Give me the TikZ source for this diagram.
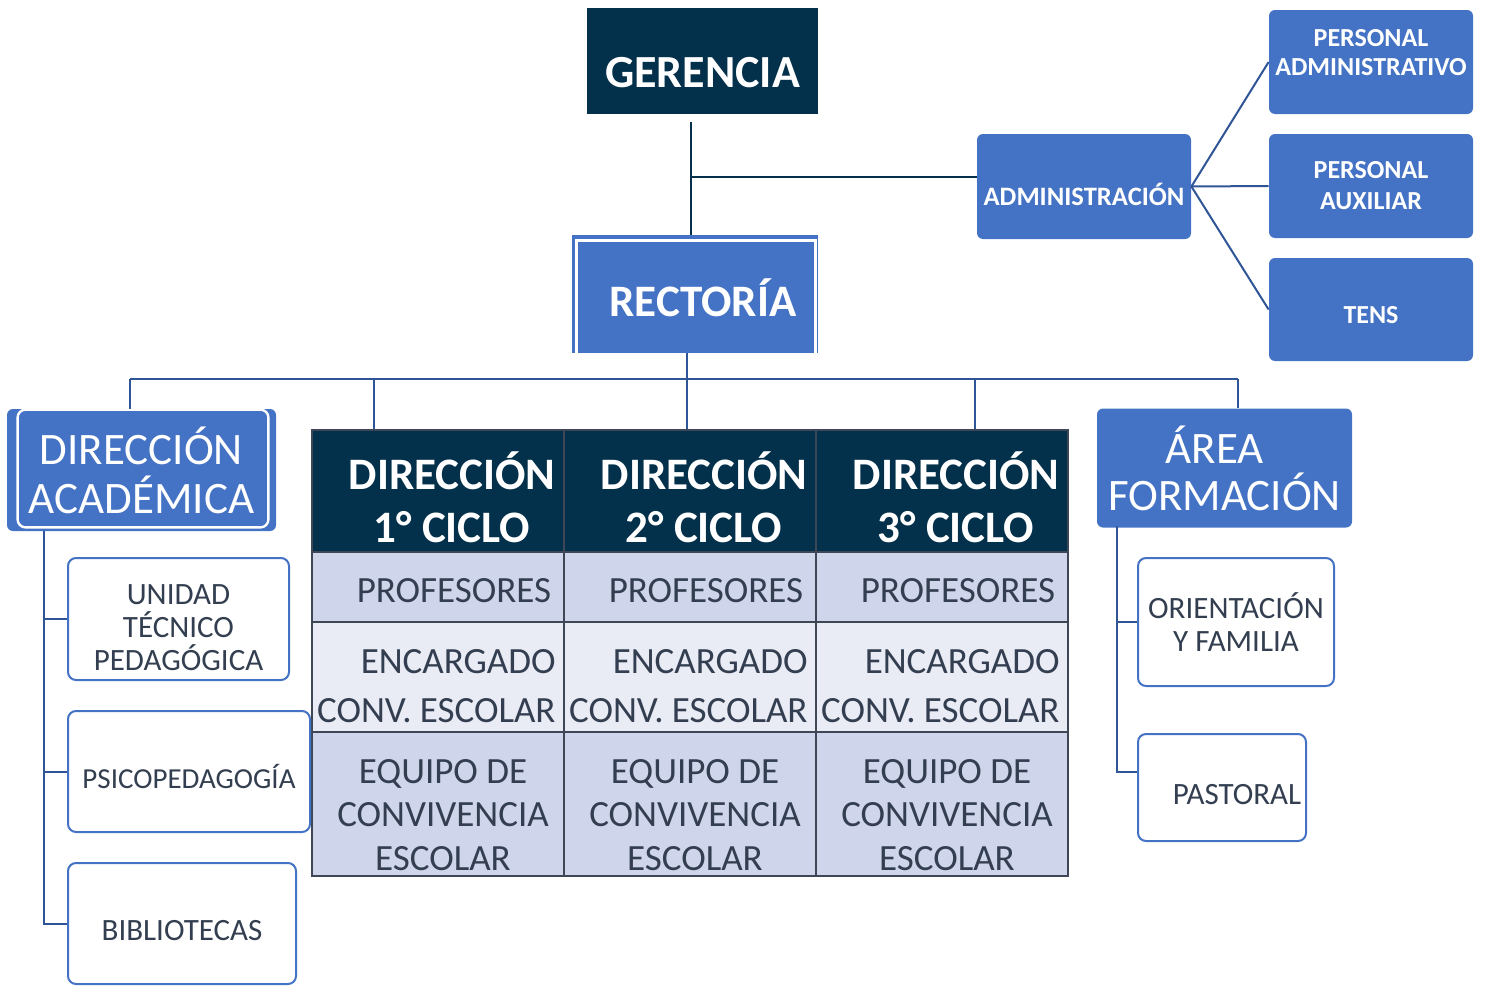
\documentclass[tikz,border=0pt]{standalone}
\usepackage{fontspec}
\setmainfont{Carlito}
\usepackage{tikz}
\usetikzlibrary{shapes}
\definecolor{navy}{HTML}{03304A}
\definecolor{azul}{HTML}{4472C4}
\definecolor{linea}{HTML}{2F5597}
\definecolor{texto}{HTML}{333F50}
\definecolor{celdaA}{HTML}{CFD5EA}
\definecolor{celdaB}{HTML}{E9EBF5}
\definecolor{borde}{HTML}{3F4756}
\tikzstyle{navybox}=[fill=navy, text=white, inner sep=0pt]
\tikzstyle{bluebox}=[fill=azul, text=white, rounded corners=3pt, inner sep=0pt, align=center]
\tikzstyle{whitebox}=[draw=azul, line width=1pt, fill=white, rounded corners=4pt, text=texto, inner sep=0pt, align=center, font=\fontsize{15.5}{16.5}\selectfont]
\tikzstyle{cell}=[draw=borde, line width=1pt, inner sep=0pt, minimum width=126pt]
\tikzstyle{celltext}=[text=texto, inner sep=0pt, align=center]
\tikzstyle{conn}=[draw=linea, line width=1pt]

\begin{document}
\begin{tikzpicture}[x=0.5pt,y=-0.5pt]
		\useasboundingbox (0,0) rectangle (1492,985);
		% gerencia, rectoria y administracion
		\node[navybox, minimum width=115.5pt, minimum height=53pt, text height=26pt, text depth=0pt, font=\bfseries\fontsize{23}{28}\selectfont] (ger) at (702.5,61) {GERENCIA};
		\node[bluebox, rounded corners=0pt, minimum width=123pt, minimum height=59pt, text height=22.5pt, text depth=0pt, font=\bfseries\fontsize{22.5}{27}\selectfont] (rec) at (695,294) {\hspace{8pt}RECTORÍA};
		\draw[white, line width=1.2pt] ([shift={(5,0)}]rec.south west) |- ([shift={(-3,6)}]rec.north east) -- ([shift={(-3,0)}]rec.south east);
		\node[bluebox, minimum width=107pt, minimum height=52.5pt, text height=19pt, text depth=0pt, font=\bfseries\fontsize{13.3}{15}\selectfont] (adm) at (1084,186.5) {ADMINISTRACIÓN};
		\node[bluebox, minimum width=102pt, minimum height=52pt, font=\bfseries\fontsize{13}{14.5}\selectfont] (pa) at (1371,62) {PERSONAL\\ADMINISTRATIVO\\[-4.5pt]};
		\node[bluebox, minimum width=102pt, minimum height=52pt, font=\bfseries\fontsize{13}{15.5}\selectfont] (pax) at (1371,186) {PERSONAL\\AUXILIAR};
		\node[bluebox, minimum width=102pt, minimum height=51.5pt, text height=14pt, text depth=0pt, font=\bfseries\fontsize{13}{15}\selectfont] (tens) at (1371,309.5) {TENS};
		\coordinate (jg) at (691,177);
		\draw[navy, line width=1pt] ([yshift=-4pt]jg |- ger.south) -- (jg |- rec.north);
		\draw[navy, line width=1pt] (jg) -- (jg -| adm.west);
		\draw[conn] (adm.east) -- (pa.west);
		\draw[conn] (adm.east) -- (pax.west);
		\draw[conn] (adm.east) -- (tens.west);
		% direcciones
		\node[bluebox, minimum width=134.5pt, minimum height=61pt, font=\fontsize{22.5}{24.5}\selectfont] (dac) at (141.5,470) {DIRECCIÓN\\ACADÉMICA};
		\draw[white, line width=1.2pt, rounded corners=4pt] ([shift={(11,1)}]dac.north west) rectangle ([shift={(-8,-4)}]dac.south east);
		\node[bluebox, minimum width=127.5pt, minimum height=59.5pt, font=\fontsize{22.5}{23.5}\selectfont] (af) at (1224.5,468) {ÁREA\hspace*{10pt}\\FORMACIÓN};
		\foreach \c/\x in {1/438,2/690,3/942}{
			\node[cell, fill=navy, minimum height=61pt] (h\c) at (\x,491) {};
			\node[cell, fill=celdaA, minimum height=35pt] (p\c) at (\x,587) {};
			\node[cell, fill=celdaB, minimum height=55pt] (e\c) at (\x,677) {};
			\node[cell, fill=celdaA, minimum height=72pt] (q\c) at (\x,804) {};
			\node[celltext, text=white, font=\bfseries\fontsize{22.5}{26.5}\selectfont] (th\c) at (\x+14,497) {DIRECCIÓN\\\c° CICLO};
			\node[celltext, font=\fontsize{18.5}{24}\selectfont] (tp\c) at (\x+16,591) {PROFESORES};
			\node[celltext, align=right, anchor=east, font=\fontsize{18.5}{24.5}\selectfont] (te\c) at (\x+118,686) {ENCARGADO\\CONV. ESCOLAR};
			\node[celltext, font=\fontsize{18.5}{21.7}\selectfont] (tq\c) at (\x+5,815) {EQUIPO DE\\CONVIVENCIA\\ESCOLAR};
		}
		\coordinate (b1) at (130,379);
		\coordinate (b2) at (374,379);
		\coordinate (b3) at (687,379);
		\coordinate (b4) at (975,379);
		\coordinate (b5) at (1238,379);
		\draw[conn] (b3 |- rec.south) -- (b3);
		\draw[conn] (b1) -- (b5);
		\draw[conn] (b1) -- (b1 |- dac.north);
		\draw[conn] (b2) -- (b2 |- h1.north);
		\draw[conn] (b3) -- (b3 |- h2.north);
		\draw[conn] (b4) -- (b4 |- h3.north);
		\draw[conn] (b5) -- (b5 |- af.north);
		% unidades de apoyo
		\node[whitebox, minimum width=110.5pt, minimum height=61pt] (uni) at (178.5,619) {\rule{0pt}{18.5pt}UNIDAD\\TÉCNICO\\PEDAGÓGICA};
		\node[whitebox, minimum width=121pt, minimum height=60.5pt, text height=16.5pt, text depth=0pt, font=\fontsize{14.5}{16}\selectfont] (psi) at (189,771.5) {PSICOPEDAGOGÍA};
		\node[whitebox, minimum width=114pt, minimum height=60.5pt, text height=16.5pt, text depth=0pt] (bib) at (182,923.5) {BIBLIOTECAS};
		\node[whitebox, minimum width=98pt, minimum height=64pt] (ori) at (1236,622) {ORIENTACIÓN\\Y FAMILIA};
		\node[whitebox, minimum width=84pt, minimum height=53.5pt, text height=16.5pt, text depth=0pt] (pas) at (1222,787.5) {\hspace{15pt}PASTORAL};
		\coordinate (la) at (44,531);
		\draw[conn] (la) -- (la |- bib.west) -- (bib.west);
		\draw[conn] (la |- uni.west) -- (uni.west);
		\draw[conn] (la |- psi.west) -- (psi.west);
		\coordinate (ra) at (1117,526);
		\draw[conn] (ra) |- ([yshift=8pt]pas.west);
		\draw[conn] (ra |- ori.west) -- (ori.west);
	\end{tikzpicture}
\end{document}
